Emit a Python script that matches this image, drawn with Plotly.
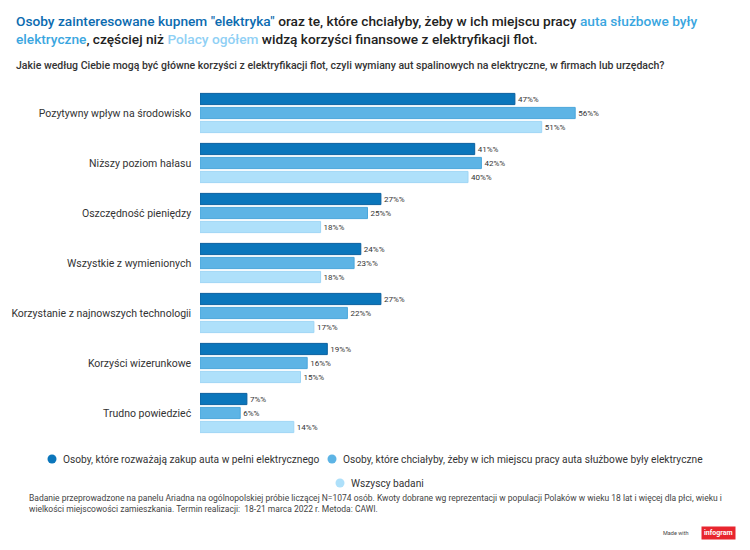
import plotly.graph_objects as go

# === DANE ===
categories = [
    "Pozytywny wpływ na środowisko",
    "Niższy poziom hałasu",
    "Oszczędność pieniędzy",
    "Wszystkie z wymienionych",
    "Korzystanie z najnowszych technologii",
    "Korzyści wizerunkowe",
    "Trudno powiedzieć",
]
series_names = [
    "Osoby, które rozważają zakup auta w pełni elektrycznego",
    "Osoby, które chciałyby, żeby w ich miejscu pracy auta służbowe były elektryczne",
    "Wszyscy badani",
]
rozwazajacy = [47, 41, 27, 24, 27, 19, 7]
praca_sluzbowe = [56, 42, 25, 23, 22, 16, 6]
wszyscy = [51, 40, 18, 18, 17, 15, 14]

colors = ["#0b76bb", "#5db4e5", "#aee0fa"]
line_colors = ["#0a5f9e", "#4aa6db", "#9fd6f5"]

FONT = "Roboto"

# === GEOMETRIA (piksele) ===
# strona html ma 8 px marginesu body, więc wszystko przesuwam o OFF
OFF = 8
W, H = 750, 550
L, R, T, B = 200 - OFF, 14 + OFF, 88 - OFF, 112 + OFF
PW, PH = W - L - R, H - T - B


def px(x):
    return (x - OFF - L) / PW


def py(y):
    return (H - B - (y - OFF)) / PH


fig = go.Figure()
for name, vals, col, lcol in zip(series_names, [rozwazajacy, praca_sluzbowe, wszyscy], colors, line_colors):
    fig.add_trace(go.Bar(
        y=categories,
        x=vals,
        orientation="h",
        name=name,
        marker=dict(color=col, line=dict(color=lcol, width=1)),
        text=[f"{v}%%" for v in vals],
        textposition="outside",
        textfont=dict(family=FONT, size=8, color="#333"),
        cliponaxis=False,
        showlegend=False,
    ))

title_html = (
    "<span style='color:#0b6bb0'>Osoby zainteresowane kupnem \"elektryka\"</span>"
    " oraz te, które chciałyby, żeby w ich miejscu pracy "
    "<span style='color:#3aa6e0'>auta służbowe były</span><br>"
    "<span style='color:#3aa6e0'>elektryczne</span>, częściej niż "
    "<span style='color:#8fd0f5'>Polacy ogółem</span> widzą korzyści finansowe z elektryfikacji flot."
)

annotations = [
    dict(
        text=title_html, x=px(14), y=py(30), xanchor="left", yanchor="middle",
        align="left", font=dict(family=FONT, size=13.7, color="#222", weight=500),
    ),
    dict(
        text="Jakie według Ciebie mogą być główne korzyści z elektryfikacji flot, czyli wymiany aut spalinowych na elektryczne, w firmach lub urzędach?",
        x=px(14), y=py(66), xanchor="left", yanchor="middle", align="left",
        font=dict(family=FONT, size=10.5, color="#333", weight=500),
    ),
    dict(
        text="Badanie przeprowadzone na panelu Ariadna na ogólnopolskiej próbie liczącej N=1074 osób. Kwoty dobrane wg reprezentacji w populacji Polaków w wieku 18 lat i więcej dla płci, wieku i<br>wielkości miejscowości zamieszkania. Termin realizacji:  18-21 marca 2022 r. Metoda: CAWI.",
        x=px(27), y=py(503.5), xanchor="left", yanchor="middle", align="left",
        font=dict(family=FONT, size=8.5, color="#444"),
    ),
    dict(
        text="Made with", x=px(690), y=py(533), xanchor="right", yanchor="middle",
        font=dict(family=FONT, size=5.5, color="#444"),
    ),
    dict(
        text="<b>infogram</b>", x=px(736), y=py(533), xanchor="right", yanchor="middle",
        bgcolor="#e8252e", borderpad=2,
        font=dict(family=FONT, size=7, color="white"),
    ),
]

# === LEGENDA (kółka + teksty) ===
legend_pos = [(52, 459), (332, 459), (340, 483)]
shapes = []
for name, col, (lx, ly) in zip(series_names, colors, legend_pos):
    shapes.append(dict(
        type="circle", xref="paper", yref="paper",
        x0=px(lx - 4.5), x1=px(lx + 4.5), y0=py(ly + 4.5), y1=py(ly - 4.5),
        fillcolor=col, line=dict(width=0),
    ))
    annotations.append(dict(
        text=name, x=px(lx + 9), y=py(ly), xanchor="left", yanchor="middle",
        font=dict(family=FONT, size=10.2, color="#333"),
    ))

for a in annotations:
    a.update(xref="paper", yref="paper", showarrow=False)

fig.update_layout(
    width=W,
    height=H,
    paper_bgcolor="white",
    plot_bgcolor="white",
    margin=dict(l=L, r=R, t=T, b=B),
    barmode="group",
    bargap=0.16,
    bargroupgap=0.2,
    showlegend=False,
    font=dict(family=FONT, color="#333"),
    xaxis=dict(range=[0, 80], visible=False, fixedrange=True),
    yaxis=dict(
        autorange="reversed",
        automargin=False,
        showgrid=False,
        showline=False,
        ticks="",
        ticksuffix="   ",
        tickfont=dict(family=FONT, size=10.5, color="#333"),
    ),
    annotations=annotations,
    shapes=shapes,
)

fig.write_html("out.html")
